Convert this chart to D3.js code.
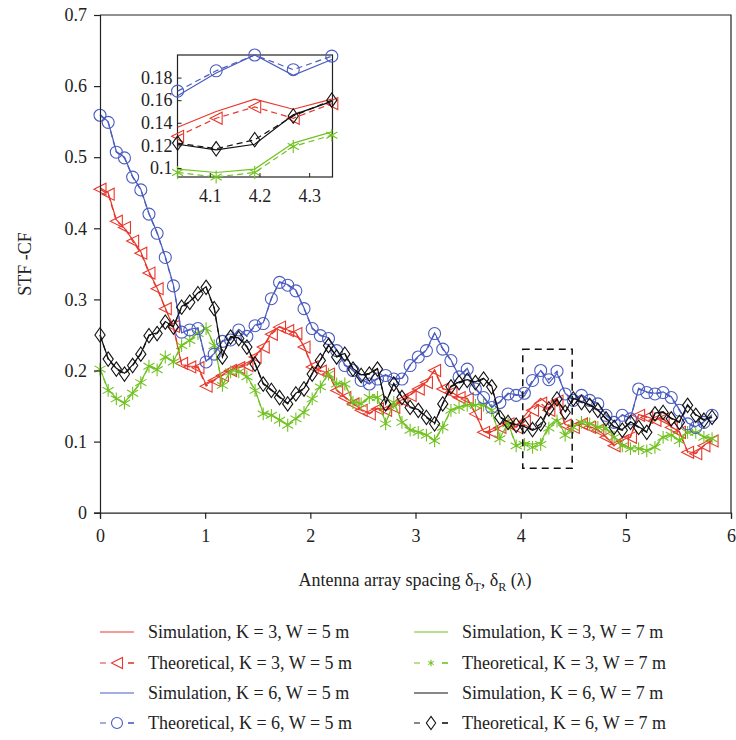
<!DOCTYPE html>
<html>
<head>
<meta charset="utf-8">
<script src="https://cdn.jsdelivr.net/npm/d3@7"></script>
<style>
  body { margin: 0; background: #fff; }
  svg { font-family: "Liberation Serif", "DejaVu Serif", serif; }
</style>
</head>
<body>
<div id="chart"></div>
<script>
// sample grid (antenna spacing, in wavelengths)
const spacing = d3.range(76).map((i) => i * 0.0776);

// K = 3, W = 5 m
const simK3W5 = [
  0.457, 0.45, 0.412, 0.4, 0.384, 0.367, 0.339, 0.316, 0.288, 0.26,
  0.208, 0.206, 0.206, 0.18, 0.187, 0.194, 0.201, 0.206, 0.208, 0.22,
  0.234, 0.253, 0.262, 0.257, 0.253, 0.234, 0.206, 0.2, 0.196, 0.173,
  0.163, 0.154, 0.145, 0.14, 0.147, 0.145, 0.149, 0.159, 0.166, 0.175,
  0.184, 0.201, 0.175, 0.17, 0.163, 0.161, 0.14, 0.114, 0.114, 0.121,
  0.126, 0.121, 0.136, 0.15, 0.161, 0.152, 0.161, 0.124, 0.121, 0.126,
  0.121, 0.117, 0.107, 0.095, 0.102, 0.107, 0.138, 0.135, 0.131, 0.133,
  0.121, 0.114, 0.086, 0.084, 0.095, 0.102
];
const theoK3W5 = [
  0.455, 0.448, 0.41, 0.401, 0.382, 0.365, 0.337, 0.315, 0.287, 0.262,
  0.21, 0.205, 0.204, 0.178, 0.186, 0.193, 0.2, 0.204, 0.207, 0.219,
  0.233, 0.251, 0.261, 0.256, 0.252, 0.233, 0.205, 0.199, 0.195, 0.172,
  0.162, 0.153, 0.144, 0.139, 0.146, 0.144, 0.148, 0.158, 0.165, 0.174,
  0.183, 0.2, 0.174, 0.169, 0.162, 0.16, 0.139, 0.113, 0.113, 0.12,
  0.125, 0.12, 0.128, 0.144, 0.154, 0.144, 0.157, 0.123, 0.12, 0.125,
  0.12, 0.116, 0.106, 0.094, 0.101, 0.106, 0.137, 0.134, 0.13, 0.132,
  0.12, 0.113, 0.085, 0.083, 0.094, 0.101
];

// K = 3, W = 7 m
const simK3W7 = [
  0.203, 0.173, 0.161, 0.155, 0.169, 0.184, 0.207, 0.202, 0.22, 0.213,
  0.236, 0.243, 0.253, 0.26, 0.236, 0.18, 0.199, 0.199, 0.192, 0.173,
  0.14, 0.138, 0.131, 0.124, 0.133, 0.142, 0.161, 0.178, 0.196, 0.182,
  0.182, 0.156, 0.154, 0.163, 0.163, 0.126, 0.156, 0.128, 0.117, 0.114,
  0.11, 0.102, 0.121, 0.145, 0.149, 0.152, 0.152, 0.152, 0.145, 0.105,
  0.126, 0.095, 0.099, 0.096, 0.099, 0.122, 0.132, 0.11, 0.121, 0.128,
  0.126, 0.121, 0.119, 0.107, 0.095, 0.091, 0.091, 0.088, 0.093, 0.107,
  0.11, 0.102, 0.114, 0.114, 0.107, 0.105
];
const theoK3W7 = [
  0.202, 0.172, 0.16, 0.154, 0.168, 0.183, 0.206, 0.201, 0.219, 0.212,
  0.235, 0.242, 0.252, 0.259, 0.235, 0.179, 0.198, 0.198, 0.191, 0.172,
  0.139, 0.137, 0.13, 0.123, 0.132, 0.141, 0.16, 0.177, 0.195, 0.181,
  0.181, 0.155, 0.153, 0.162, 0.162, 0.125, 0.155, 0.127, 0.116, 0.113,
  0.109, 0.101, 0.12, 0.144, 0.148, 0.151, 0.151, 0.151, 0.144, 0.104,
  0.125, 0.094, 0.096, 0.092, 0.096, 0.119, 0.129, 0.109, 0.12, 0.127,
  0.125, 0.12, 0.118, 0.106, 0.094, 0.09, 0.09, 0.087, 0.092, 0.106,
  0.109, 0.101, 0.113, 0.113, 0.106, 0.104
];

// K = 6, W = 5 m
const simK6W5 = [
  0.56, 0.55, 0.508, 0.5, 0.473, 0.455, 0.421, 0.394, 0.36, 0.32,
  0.253, 0.258, 0.26, 0.213, 0.224, 0.242, 0.244, 0.258, 0.249, 0.264,
  0.267, 0.302, 0.325, 0.321, 0.313, 0.288, 0.26, 0.25, 0.246, 0.229,
  0.208, 0.201, 0.187, 0.182, 0.189, 0.194, 0.189, 0.189, 0.208, 0.22,
  0.229, 0.253, 0.231, 0.215, 0.192, 0.203, 0.175, 0.163, 0.149, 0.156,
  0.168, 0.166, 0.164, 0.184, 0.2, 0.182, 0.196, 0.168, 0.159, 0.166,
  0.159, 0.154, 0.138, 0.128, 0.138, 0.133, 0.175, 0.17, 0.168, 0.17,
  0.163, 0.145, 0.126, 0.121, 0.128, 0.138
];
const theoK6W5 = [
  0.559, 0.549, 0.507, 0.499, 0.472, 0.454, 0.42, 0.393, 0.359, 0.319,
  0.254, 0.257, 0.259, 0.212, 0.223, 0.241, 0.243, 0.257, 0.248, 0.263,
  0.266, 0.301, 0.324, 0.32, 0.312, 0.287, 0.259, 0.249, 0.245, 0.228,
  0.207, 0.2, 0.186, 0.181, 0.188, 0.193, 0.188, 0.188, 0.207, 0.219,
  0.228, 0.252, 0.23, 0.214, 0.191, 0.202, 0.174, 0.162, 0.148, 0.155,
  0.167, 0.165, 0.168, 0.186, 0.2, 0.187, 0.199, 0.167, 0.158, 0.165,
  0.158, 0.153, 0.137, 0.127, 0.137, 0.132, 0.174, 0.169, 0.167, 0.169,
  0.162, 0.144, 0.125, 0.12, 0.127, 0.137
];

// K = 6, W = 7 m
const simK6W7 = [
  0.25, 0.217, 0.203, 0.196, 0.208, 0.224, 0.25, 0.253, 0.269, 0.262,
  0.29, 0.297, 0.309, 0.318, 0.288, 0.22, 0.248, 0.246, 0.234, 0.21,
  0.182, 0.173, 0.163, 0.154, 0.168, 0.175, 0.196, 0.215, 0.236, 0.22,
  0.224, 0.203, 0.194, 0.196, 0.203, 0.154, 0.182, 0.163, 0.149, 0.145,
  0.135, 0.126, 0.154, 0.178, 0.184, 0.187, 0.184, 0.189, 0.178, 0.135,
  0.128, 0.124, 0.121, 0.116, 0.121, 0.147, 0.159, 0.142, 0.161, 0.156,
  0.152, 0.145, 0.133, 0.121, 0.117, 0.128, 0.121, 0.114, 0.14, 0.142,
  0.133, 0.128, 0.152, 0.138, 0.131, 0.135
];
const theoK6W7 = [
  0.25, 0.216, 0.202, 0.195, 0.207, 0.223, 0.249, 0.252, 0.268, 0.261,
  0.289, 0.296, 0.308, 0.317, 0.287, 0.219, 0.247, 0.245, 0.233, 0.209,
  0.181, 0.172, 0.162, 0.153, 0.167, 0.174, 0.195, 0.214, 0.235, 0.219,
  0.223, 0.202, 0.193, 0.195, 0.202, 0.153, 0.181, 0.162, 0.148, 0.144,
  0.134, 0.125, 0.153, 0.177, 0.183, 0.186, 0.183, 0.188, 0.177, 0.134,
  0.127, 0.123, 0.122, 0.117, 0.125, 0.146, 0.16, 0.141, 0.16, 0.155,
  0.151, 0.144, 0.132, 0.12, 0.116, 0.127, 0.12, 0.113, 0.139, 0.141,
  0.132, 0.127, 0.151, 0.137, 0.13, 0.134
];

const xTicks = [0, 1, 2, 3, 4, 5, 6];
const yTicks = [0, 0.1, 0.2, 0.3, 0.4, 0.5, 0.6, 0.7];
const insetXTicks = [4.1, 4.2, 4.3];
const insetYTicks = [0.1, 0.12, 0.14, 0.16, 0.18];
const zoomBox = { x0: 4.02, x1: 4.49, y0: 0.0625, y1: 0.23 };

const series = [
  { sim: simK3W5, theo: theoK3W5, color: "#e8382c", marker: "triLeft",
    simLabel: "Simulation, K = 3, W = 5 m", theoLabel: "Theoretical, K = 3, W = 5 m" },
  { sim: simK3W7, theo: theoK3W7, color: "#72c222", marker: "star",
    simLabel: "Simulation, K = 3, W = 7 m", theoLabel: "Theoretical, K = 3, W = 7 m" },
  { sim: simK6W5, theo: theoK6W5, color: "#4b5cc0", marker: "circle",
    simLabel: "Simulation, K = 6, W = 5 m", theoLabel: "Theoretical, K = 6, W = 5 m" },
  { sim: simK6W7, theo: theoK6W7, color: "#111111", marker: "diamond",
    simLabel: "Simulation, K = 6, W = 7 m", theoLabel: "Theoretical, K = 6, W = 7 m" }
];

const width = 736;
const height = 740;
const margin = { top: 15, right: 5, left: 100, bottom: 227 };

const svg = d3
  .select("#chart")
  .append("svg")
  .attr("width", width)
  .attr("height", height);

const x = d3.scaleLinear().domain([0, 6]).range([margin.left, 731]);
const y = d3.scaleLinear().domain([0, 0.7]).range([512.7, margin.top]);

// marker shapes, size s = half width
const markerPath = (type, s) => {
  if (type === "triLeft") return `M${-s},0L${s},${-s}L${s},${s}Z`;
  if (type === "diamond") return `M0,${-s * 1.2}L${s * 0.85},0L0,${s * 1.2}L${-s * 0.85},0Z`;
  if (type === "circle") return d3.symbol(d3.symbolCircle, Math.PI * s * s)();
  return d3.symbol(d3.symbolAsterisk, s * s * 3.2)();
};

const drawSeries = (g, xs, ys, idx, s, markerSize) => {
  const line = d3
    .line()
    .x((i) => xs(spacing[i]))
    .y((i) => ys(s.sim[i]));
  const lineT = d3
    .line()
    .x((i) => xs(spacing[i]))
    .y((i) => ys(s.theo[i]));

  g.append("path")
    .attr("d", line(idx))
    .attr("fill", "none")
    .attr("stroke", s.color)
    .attr("stroke-width", 1.2);

  g.append("path")
    .attr("d", lineT(idx))
    .attr("fill", "none")
    .attr("stroke", s.color)
    .attr("stroke-width", 1.2)
    .attr("stroke-dasharray", "6,4");

  g.selectAll(null)
    .data(idx)
    .enter()
    .append("path")
    .attr("d", markerPath(s.marker, markerSize))
    .attr("transform", (i) => `translate(${xs(spacing[i])},${ys(s.theo[i])})`)
    .attr("fill", "none")
    .attr("stroke", s.color)
    .attr("stroke-width", 1.1);
};

// main plot
const plot = svg.append("g");
const allIdx = d3.range(spacing.length);
series.forEach((s) => drawSeries(plot, x, y, allIdx, s, 6));

// dashed zoom box
svg
  .append("rect")
  .attr("x", x(zoomBox.x0))
  .attr("y", y(zoomBox.y1))
  .attr("width", x(zoomBox.x1) - x(zoomBox.x0))
  .attr("height", y(zoomBox.y0) - y(zoomBox.y1))
  .attr("fill", "none")
  .attr("stroke", "#111")
  .attr("stroke-width", 1.5)
  .attr("stroke-dasharray", "7,5");

// frame
svg
  .append("path")
  .attr("d", `M${x(0)},${y(0.7)}H${x(6)}V${y(0)}`)
  .attr("fill", "none")
  .attr("stroke", "#222")
  .attr("stroke-width", 1.2);

// axes
const xAxis = svg
  .append("g")
  .attr("transform", `translate(0,${y(0)})`)
  .call(d3.axisBottom(x).tickValues(xTicks).tickFormat(d3.format("d")).tickSize(6).tickPadding(11));
const yAxis = svg
  .append("g")
  .attr("transform", `translate(${x(0)},0)`)
  .call(d3.axisLeft(y).tickValues(yTicks).tickFormat((d) => String(d)).tickSize(6).tickPadding(7));

[xAxis, yAxis].forEach((a) => {
  a.select(".domain").attr("stroke", "#222").attr("stroke-width", 1.2);
  a.selectAll(".tick line").attr("stroke", "#222").attr("stroke-width", 1.2);
  a.selectAll(".tick text")
    .attr("font-family", "Liberation Serif, serif")
    .attr("font-size", 18)
    .attr("fill", "#222");
});

// axis titles
const xTitle = svg
  .append("text")
  .attr("x", 415)
  .attr("y", 586)
  .attr("text-anchor", "middle")
  .attr("font-size", 18)
  .attr("fill", "#222");
xTitle.append("tspan").text("Antenna array spacing δ");
xTitle.append("tspan").attr("font-size", 12).attr("dy", 5).text("T");
xTitle.append("tspan").attr("dy", -5).text(", δ");
xTitle.append("tspan").attr("font-size", 12).attr("dy", 5).text("R");
xTitle.append("tspan").attr("dy", -5).text(" (λ)");

svg
  .append("text")
  .attr("transform", `translate(31,264) rotate(-90)`)
  .attr("text-anchor", "middle")
  .attr("font-size", 18)
  .attr("fill", "#222")
  .text("STF -CF");

// inset
const ix = d3.scaleLinear().domain([4.035, 4.347]).range([177.5, 332.5]);
const iy = d3.scaleLinear().domain([0.092, 0.2]).range([177, 55]);
const inset = svg.append("g");

inset
  .append("rect")
  .attr("x", 177.5)
  .attr("y", 55)
  .attr("width", 155)
  .attr("height", 122)
  .attr("fill", "#fff")
  .attr("stroke", "#222")
  .attr("stroke-width", 1.2);

const insetIdx = [52, 53, 54, 55, 56];
series.forEach((s) => drawSeries(inset, ix, iy, insetIdx, s, 6));

const ixAxis = inset
  .append("g")
  .attr("transform", `translate(0,177)`)
  .call(
    d3.axisBottom(ix).tickValues(insetXTicks).tickFormat((d) => String(+d.toFixed(1)))
      .tickSizeInner(-4).tickSizeOuter(0).tickPadding(12)
  );
const iyAxis = inset
  .append("g")
  .attr("transform", `translate(177.5,0)`)
  .call(
    d3.axisLeft(iy).tickValues(insetYTicks).tickFormat((d) => String(+d.toFixed(2)))
      .tickSizeInner(-4).tickSizeOuter(0).tickPadding(5)
  );
[ixAxis, iyAxis].forEach((a) => {
  a.select(".domain").remove();
  a.selectAll(".tick line").attr("stroke", "#222");
  a.selectAll(".tick text")
    .attr("font-family", "Liberation Serif, serif")
    .attr("font-size", 18)
    .attr("fill", "#222");
});

// legend
const legend = svg.append("g");
const legendCols = [100, 414];
const legendRows = [632, 663, 693, 723];
const legendItems = [
  { s: series[0], kind: "sim", col: 0, row: 0 },
  { s: series[0], kind: "theo", col: 0, row: 1 },
  { s: series[2], kind: "sim", col: 0, row: 2 },
  { s: series[2], kind: "theo", col: 0, row: 3 },
  { s: series[1], kind: "sim", col: 1, row: 0 },
  { s: series[1], kind: "theo", col: 1, row: 1 },
  { s: series[3], kind: "sim", col: 1, row: 2 },
  { s: series[3], kind: "theo", col: 1, row: 3 }
];

legendItems.forEach((d) => {
  const lx = legendCols[d.col];
  const ly = legendRows[d.row];
  const item = legend.append("g").attr("transform", `translate(${lx},${ly})`);
  if (d.kind === "sim") {
    item.append("line")
      .attr("x1", 0).attr("x2", 34)
      .attr("stroke", d.s.color).attr("stroke-width", 1.2);
  } else {
    item.append("line")
      .attr("x1", 0).attr("x2", 34)
      .attr("stroke", d.s.color).attr("stroke-width", 1.2)
      .attr("stroke-dasharray", "6,22");
    item.append("line")
      .attr("x1", 28).attr("x2", 34)
      .attr("stroke", d.s.color).attr("stroke-width", 1.2);
    item.append("path")
      .attr("d", markerPath(d.s.marker, d.s.marker === "star" ? 3 : 5.5))
      .attr("transform", "translate(17,0)")
      .attr("fill", "none")
      .attr("stroke", d.s.color)
      .attr("stroke-width", 1.1);
  }
  item.append("text")
    .attr("x", 48)
    .attr("y", 6)
    .attr("font-size", 18)
    .attr("fill", "#222")
    .text(d.kind === "sim" ? d.s.simLabel : d.s.theoLabel);
});
</script>
</body>
</html>
